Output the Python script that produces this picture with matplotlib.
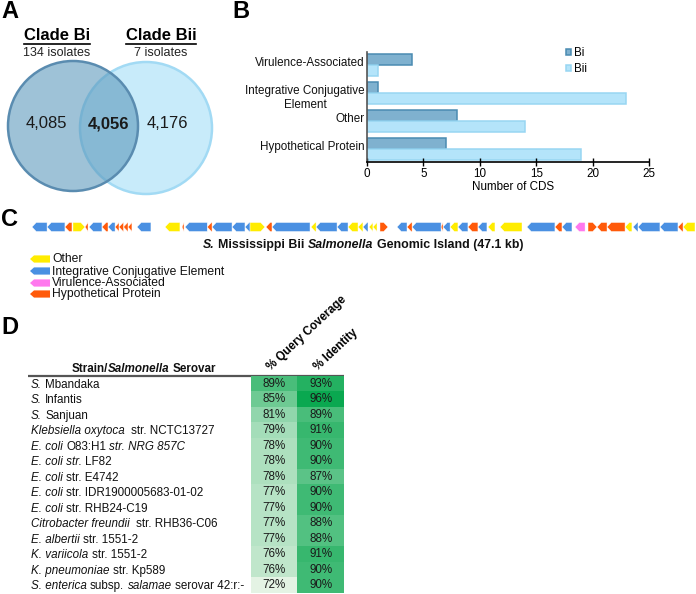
import matplotlib
matplotlib.use("Agg")
import matplotlib.pyplot as plt
import matplotlib.transforms as mtransforms
import numpy as np
from matplotlib.colors import LinearSegmentedColormap
from matplotlib.patches import Circle, Polygon

plt.rcParams["font.family"] = ["Liberation Sans", "DejaVu Sans"]

W, H, DPI = 696, 594, 100

# ---------------- data ----------------
venn_names = ["Clade Bi", "Clade Bii"]
venn_isolates = ["134 isolates", "7 isolates"]
venn_counts = [4085, 4056, 4176]  # Bi only, shared, Bii only

cds_categories = ["Hypothetical Protein", "Other",
                  "Integrative Conjugative\nElement", "Virulence-Associated"]
cds_bi = [7, 8, 1, 4]
cds_bii = [19, 14, 23, 1]

island_kb = 47.1
gene_start = [0.00, 1.07, 2.34, 2.91, 3.77, 4.05, 4.97, 5.40, 5.90, 6.18,
              6.50, 6.82, 7.46, 9.45, 10.66, 10.87, 12.45, 12.79, 14.21, 15.13,
              15.49, 16.62, 17.05, 19.82, 20.18, 21.67, 22.45, 23.16, 23.51, 23.94,
              24.22, 24.72, 25.93, 26.64, 27.00, 29.06, 29.20, 29.70, 30.26, 30.97,
              31.68, 32.39, 33.25, 35.16, 37.15, 37.65, 38.57, 39.50, 40.14, 40.85,
              42.13, 42.70, 43.05, 44.61, 45.89, 46.25]
gene_end = [1.07, 2.34, 2.84, 3.77, 3.98, 4.97, 5.40, 5.90, 6.18, 6.50,
            6.82, 7.10, 8.45, 10.51, 10.80, 12.45, 12.79, 14.21, 15.13, 15.49,
            16.55, 17.05, 19.75, 20.18, 21.67, 22.45, 23.16, 23.51, 23.87, 24.22,
            24.51, 25.29, 26.64, 27.00, 29.06, 29.20, 29.70, 30.26, 30.97, 31.68,
            32.32, 32.89, 34.81, 37.15, 37.65, 38.36, 39.29, 40.14, 40.85, 42.13,
            42.62, 43.05, 44.61, 45.89, 46.25, 47.10]
gene_strand = [-1, -1, -1, 1, -1, -1, -1, -1, -1, -1,
               -1, -1, -1, -1, -1, -1, -1, -1, -1, -1,
               1, -1, -1, -1, -1, -1, -1, -1, -1, -1,
               -1, 1, -1, -1, -1, -1, -1, -1, -1, -1,
               -1, -1, -1, -1, -1, -1, -1, 1, -1, -1,
               -1, -1, -1, -1, -1, -1]
gene_type = ["I", "I", "H", "O", "H", "I", "H", "I", "H", "H",
             "H", "H", "I", "O", "H", "I", "H", "I", "I", "I",
             "O", "H", "I", "O", "I", "I", "O", "O", "I", "O",
             "O", "H", "I", "H", "I", "H", "I", "O", "I", "H",
             "I", "O", "O", "I", "H", "I", "V", "H", "H", "H",
             "O", "I", "I", "I", "H", "O"]
gene_legend = [("O", "Other"), ("I", "Integrative Conjugative Element"),
               ("V", "Virulence-Associated"), ("H", "Hypothetical Protein")]
gene_colors = {"O": "#ffec00", "I": "#4a90e2", "V": "#ff78ee", "H": "#ff5a0a"}

strain_labels = [
    [("S.", True), (" Mbandaka", False)],
    [("S.", True), (" Infantis", False)],
    [("S.", True), (" Sanjuan", False)],
    [("Klebsiella oxytoca", True), ("  str. NCTC13727", False)],
    [("E. coli", True), (" O83:H1 ", False), ("str. NRG 857C", True)],
    [("E. coli str.", True), (" LF82", False)],
    [("E. coli", True), (" str. E4742", False)],
    [("E. coli", True), (" str. IDR1900005683-01-02", False)],
    [("E. coli", True), (" str. RHB24-C19", False)],
    [("Citrobacter freundii", True), ("  str. RHB36-C06", False)],
    [("E. albertii", True), (" str. 1551-2", False)],
    [("K. variicola", True), (" str. 1551-2", False)],
    [("K. pneumoniae", True), (" str. Kp589", False)],
    [("S. enterica", True), (" subsp. ", False), ("salamae", True), (" serovar 42:r:-", False)],
]
query_coverage = [89, 85, 81, 79, 78, 78, 78, 77, 77, 77, 77, 76, 76, 72]
identity = [93, 96, 89, 91, 90, 90, 87, 90, 90, 88, 88, 91, 90, 90]

# ---------------- figure ----------------
fig = plt.figure(figsize=(W / DPI, H / DPI), dpi=DPI)
ov = fig.add_axes([0, 0, 1, 1])
ov.set_xlim(0, W)
ov.set_ylim(H, 0)
ov.axis("off")
renderer = fig.canvas.get_renderer()


def text_width(s, **kw):
    t = ov.text(0, 0, s, **kw)
    w = t.get_window_extent(renderer).width
    t.remove()
    return w


def rich_text(x, y, parts, size, ha="left", weight="normal"):
    sp = text_width("a a", fontsize=size, fontweight=weight) - text_width("aa", fontsize=size, fontweight=weight)
    pieces, total = [], 0.0
    for s, italic in parts:
        lead = len(s) - len(s.lstrip(" "))
        trail = len(s) - len(s.rstrip(" "))
        core = s.strip(" ")
        style = "italic" if italic else "normal"
        total += lead * sp
        pieces.append((total, core, style))
        total += text_width(core, fontsize=size, fontstyle=style, fontweight=weight) + trail * sp
    x0 = x if ha == "left" else x - total / 2
    for off, core, style in pieces:
        ov.text(x0 + off, y, core, fontsize=size, fontstyle=style, fontweight=weight,
                ha="left", va="baseline", color="#111111")


def px_axes(x0, y0, x1, y1):
    return fig.add_axes([x0 / W, 1 - y1 / H, (x1 - x0) / W, (y1 - y0) / H])


for letter, (lx, ly) in zip("ABCD", [(10, 12), (241, 11), (10, 220), (10, 327)]):
    ov.text(lx, ly, letter, fontsize=17, fontweight="bold", ha="center", va="center")

# ---------------- A: Venn ----------------
ov.add_patch(Circle((146, 128), 66, facecolor="#c8ebfa", edgecolor="#a2daf4", lw=1.8))
ov.add_patch(Circle((73, 126), 65, facecolor=(88 / 255, 150 / 255, 186 / 255, 0.58),
                    edgecolor="#5a8cb0", lw=1.8))
for cx, name, iso in zip([57, 161], venn_names, venn_isolates):
    t = ov.text(cx, 36, name, fontsize=12, fontweight="bold", ha="center", va="center")
    bb = t.get_window_extent(renderer)
    ov.plot([bb.x0, bb.x1], [43.5, 43.5], color="black", lw=1.2)
    ov.text(cx, 53, iso, fontsize=9, ha="center", va="center", color="#222222")
for cx, val, bold in zip([46, 109, 167], venn_counts, [False, True, False]):
    ov.text(cx, 124, f"{val:,}", fontsize=12, ha="center", va="center",
            fontweight="bold" if bold else "normal", color="#1a1a1a")

# ---------------- B: bar chart ----------------
ax_b = px_axes(367, 52, 649, 162)
pos = np.arange(len(cds_categories))
bh = 0.39
bars_bi = ax_b.barh(pos + bh / 2, cds_bi, height=bh, color="#7fb1cf", edgecolor="#4a8bb2", lw=1.1, label="Bi")
bars_bii = ax_b.barh(pos - bh / 2, cds_bii, height=bh, color="#b4e4fa", edgecolor="#98d6f2", lw=1.1, label="Bii")
ax_b.set_xlim(0, 25)
ax_b.set_ylim(-0.464, 3.464)
ax_b.set_xticks(range(0, 26, 5))
ax_b.tick_params(axis="x", direction="inout", length=6, width=1, labelsize=8.4, pad=1)
ax_b.set_yticks([])
for sp_name in ("top", "right"):
    ax_b.spines[sp_name].set_visible(False)
ax_b.spines["bottom"].set_linewidth(1.2)
ax_b.spines["left"].set_linewidth(1.2)
ax_b.spines["left"].set_color("#555555")
for y, label in zip(pos, cds_categories):
    dy = -5 if "\n" in label else 2
    tr = ax_b.get_yaxis_transform() + mtransforms.ScaledTranslation(-2 / DPI, dy / DPI, fig.dpi_scale_trans)
    ax_b.text(0, y, label, transform=tr, ha="right", va="center", fontsize=8.4,
              multialignment="center", color="#111111")
ax_b.set_xlabel("Number of CDS", fontsize=8.4)
ax_b.xaxis.set_label_coords(0.518, -0.17)
ax_b.legend(handles=[bars_bi, bars_bii], frameon=False, fontsize=8.4, loc="upper left",
            bbox_to_anchor=(566 / W, 1 - 47 / H), bbox_transform=fig.transFigure,
            borderpad=0, borderaxespad=0, handlelength=0.45, handleheight=0.45,
            handletextpad=0.2, labelspacing=0.35)

# ---------------- C: genomic island ----------------
ax_c = px_axes(32, 219, 695, 235)
ax_c.set_xlim(0, island_kb)
ax_c.set_ylim(-1, 1)
ax_c.axis("off")
hh = 0.56
for s, e, strand, kind in zip(gene_start, gene_end, gene_strand, gene_type):
    head = min(0.3, e - s)
    if strand < 0:
        pts = [(s, 0), (s + head, hh), (e, hh), (e, -hh), (s + head, -hh)]
    else:
        pts = [(e, 0), (e - head, hh), (s, hh), (s, -hh), (e - head, -hh)]
    ax_c.add_patch(Polygon(pts, closed=True, facecolor=gene_colors[kind],
                           edgecolor="white", lw=0.3))

rich_text(363, 248, [("S.", True), (" Mississippi Bii ", False), ("Salmonella", True),
                     (" Genomic Island (47.1 kb)", False)], 8.9, ha="center", weight="bold")
for yy, (kind, name) in zip([259, 271, 283, 294], gene_legend):
    ov.add_patch(Polygon([(30, yy), (34, yy - 3.6), (50, yy - 3.6), (50, yy + 3.6), (34, yy + 3.6)],
                         closed=True, facecolor=gene_colors[kind], edgecolor="none"))
    ov.text(52, yy + 0.5, name, fontsize=8.7, ha="left", va="center", color="#111111")

# ---------------- D: BLAST table ----------------
ax_d = px_axes(251, 376, 344, 593)
cmap = LinearSegmentedColormap.from_list("grn", ["#e4f3e4", "#0aa850"])
vals = np.column_stack([query_coverage, identity])
ax_d.imshow(vals, cmap=cmap, vmin=72, vmax=96, aspect="auto",
            extent=(0, 2, len(vals), 0), interpolation="nearest")
ax_d.set_xlim(0, 2)
ax_d.set_ylim(len(vals), 0)
ax_d.axis("off")
for i, row in enumerate(vals):
    for j, v in enumerate(row):
        ax_d.text(j + 0.5, i + 0.5, f"{v}%", ha="center", va="center", fontsize=8.4, color="#1a1a1a")

ov.plot([28, 344], [376, 376], color="#555555", lw=1.6, solid_capstyle="butt")
rich_text(144, 372, [("Strain/", False), ("Salmonella", True), (" Serovar", False)], 8.4,
          ha="center", weight="bold")
ov.text(273, 373, "% Query Coverage", rotation=43, rotation_mode="anchor", ha="left",
        va="bottom", fontsize=8.4, fontweight="bold")
ov.text(320, 373, "% Identity", rotation=43, rotation_mode="anchor", ha="left",
        va="bottom", fontsize=8.4, fontweight="bold")

for i, parts in enumerate(strain_labels):
    disp_y = ax_d.transData.transform((0, i + 0.5))[1]
    rich_text(31, H - disp_y + 4, parts, 8.4)

fig.savefig("out.png", dpi=DPI)
